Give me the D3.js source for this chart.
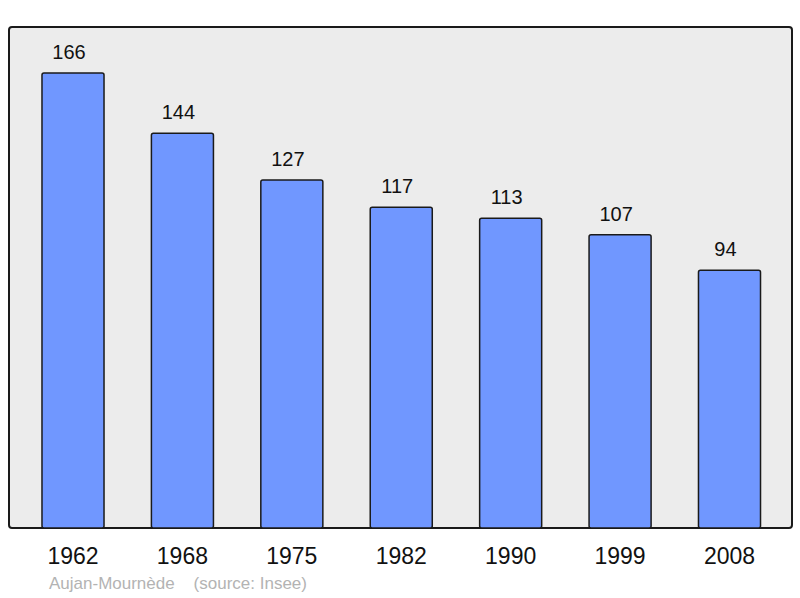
<!DOCTYPE html>
<html>
<head>
<meta charset="utf-8">
<script src="https://cdn.jsdelivr.net/npm/d3@7"></script>
<style>
  body { margin: 0; background: #fff; }
  text { font-family: "Liberation Sans", Arial, sans-serif; }
</style>
</head>
<body>
<svg id="chart"></svg>
<script>
// Population data (Insee)
const years = ["1962", "1968", "1975", "1982", "1990", "1999", "2008"];
const population = [166, 144, 127, 117, 113, 107, 94];
const commune = "Aujan-Mournède";
const source = "(source: Insee)";

const width = 800;
const height = 598;

const svg = d3.select("#chart").attr("width", width).attr("height", height);

// Panel frame
const panel = { left: 9, top: 27, right: 792, bottom: 528 };

svg
  .append("rect")
  .attr("x", panel.left)
  .attr("y", panel.top)
  .attr("width", panel.right - panel.left)
  .attr("height", panel.bottom - panel.top)
  .attr("rx", 3)
  .attr("fill", "#ececec")
  .attr("stroke", "#1a1a1a")
  .attr("stroke-width", 2);

// Scales
const x = d3
  .scaleBand()
  .domain(years)
  .range([18.3, 784.2])
  .paddingInner(0.433)
  .paddingOuter(0.2165);

const y = d3.scaleLinear().domain([0, 182.8]).range([panel.bottom, panel.top]);

// Bars
svg
  .selectAll("rect.bar")
  .data(population)
  .enter()
  .append("rect")
  .attr("class", "bar")
  .attr("x", (d, i) => x(years[i]))
  .attr("y", (d) => y(d))
  .attr("width", x.bandwidth())
  .attr("height", (d) => y(0) - y(d))
  .attr("rx", 2)
  .attr("fill", "#7097ff")
  .attr("stroke", "#1a1a1a")
  .attr("stroke-width", 1.5);

// Value labels (sit a little left of the bar centre, as in the original)
svg
  .selectAll("text.value")
  .data(population)
  .enter()
  .append("text")
  .attr("class", "value")
  .attr("x", (d, i) => x(years[i]) + x.bandwidth() / 2 - 4)
  .attr("y", (d) => y(d) - 14)
  .attr("text-anchor", "middle")
  .attr("font-size", 20)
  .attr("fill", "#111")
  .text((d) => d);

// Year labels
svg
  .selectAll("text.year")
  .data(years)
  .enter()
  .append("text")
  .attr("class", "year")
  .attr("x", (d) => x(d) + x.bandwidth() / 2)
  .attr("y", 564)
  .attr("text-anchor", "middle")
  .attr("font-size", 23)
  .attr("fill", "#111")
  .text((d) => d);

// Footer
svg
  .append("text")
  .attr("x", 49)
  .attr("y", 589)
  .attr("font-size", 17)
  .attr("fill", "#b3b3b3")
  .attr("xml:space", "preserve")
  .text(commune + "    " + source);
</script>
</body>
</html>
